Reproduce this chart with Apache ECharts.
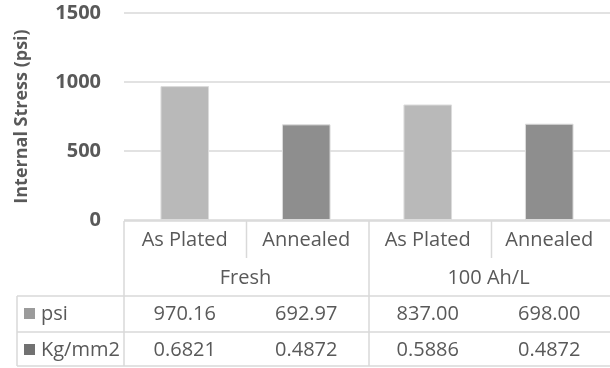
<!DOCTYPE html>
<html>
<head>
<meta charset="utf-8">
<script src="https://cdn.jsdelivr.net/npm/echarts@6/dist/echarts.min.js"></script>
<style>
  html, body { margin: 0; padding: 0; background: #fff; }
  #chart { width: 610px; height: 368px; }
</style>
</head>
<body>
<div id="chart"></div>
<script>
// Internal stress by treatment, with a data table underneath
const categories = ['As Plated', 'Annealed', 'As Plated', 'Annealed'];
const groups = ['Fresh', '100 Ah/L'];
const psiValues = [970.16, 692.97, 837.00, 698.00];
const kgValues = [0.6821, 0.4872, 0.5886, 0.4872];
const psiLabels = ['970.16', '692.97', '837.00', '698.00'];
const kgLabels = ['0.6821', '0.4872', '0.5886', '0.4872'];
const seriesNames = ['psi', 'Kg/mm2'];
const yTicks = [0, 500, 1000, 1500];

const barColors = ['#b9b9b9', '#8e8e8e', '#b9b9b9', '#8e8e8e'];
const keyColors = ['#9b9b9b', '#717171'];
const lineColor = '#d9d9d9';
const textColor = '#595959';
const family = 'Open Sans';

const chart = echarts.init(document.getElementById('chart'), null, { renderer: 'canvas' });

const GRID = { left: 124, top: 13, width: 490, height: 207 };

chart.setOption({
  animation: false,
  grid: GRID,
  xAxis: {
    type: 'category',
    data: categories,
    axisLine: { show: false },
    axisTick: { show: false },
    axisLabel: { show: false },
    splitLine: { show: false }
  },
  yAxis: {
    type: 'value',
    min: yTicks[0],
    max: yTicks[yTicks.length - 1],
    interval: 500,
    name: 'Internal Stress (psi)',
    nameLocation: 'middle',
    nameGap: 93,
    nameRotate: 90,
    nameTextStyle: { color: textColor, fontSize: 18, fontWeight: 'bold', fontFamily: family },
    axisLine: { show: false },
    axisTick: { show: false },
    axisLabel: {
      color: textColor, fontSize: 20, fontWeight: 'bold', fontFamily: family, margin: 23,
      formatter: v => String(v)
    },
    splitLine: { lineStyle: { color: lineColor, width: 1.5 } }
  },
  series: [{
    name: seriesNames[0],
    type: 'bar',
    barWidth: '40%',
    data: psiValues.map((v, i) => ({
      value: v,
      itemStyle: { color: barColors[i], borderColor: '#dcdcdc', borderWidth: 1 }
    }))
  }]
});

// Data table under the plot, laid out from the category axis positions
const x0 = GRID.left;
const x1 = GRID.left + GRID.width;
const band = GRID.width / categories.length;
const cx = categories.map((c, i) => chart.convertToPixel({ xAxisIndex: 0 }, i));
const gcx = groups.map((g, gi) => (cx[gi * 2] + cx[gi * 2 + 1]) / 2);

const rowTop = GRID.top + GRID.height + 1;   // top border of the table
const rowSub = rowTop + 37;                  // end of the sub-category separators
const rowPsi = rowTop + 75;                  // top of the psi row
const rowKg = rowPsi + 36;                   // top of the Kg/mm2 row
const rowEnd = rowKg + 34;                   // bottom border
const legendLeft = 17;

const els = [];
function hline(y, xa, xb) {
  els.push({ type: 'line', shape: { x1: xa, y1: y, x2: xb, y2: y }, style: { stroke: lineColor, lineWidth: 1.5 }, silent: true });
}
function vline(x, ya, yb) {
  els.push({ type: 'line', shape: { x1: x, y1: ya, x2: x, y2: yb }, style: { stroke: lineColor, lineWidth: 1.5 }, silent: true });
}
function text(str, x, y, align) {
  els.push({
    type: 'text', x: x, y: y, silent: true,
    style: {
      text: str, fill: textColor, fontSize: 20, fontFamily: family,
      align: align || 'center', verticalAlign: 'middle'
    }
  });
}

hline(rowTop, x0, x1);
hline(rowPsi, legendLeft, x1);
hline(rowKg, legendLeft, x1);
hline(rowEnd, legendLeft, x1);
vline(legendLeft, rowPsi, rowEnd);
vline(x0, rowTop, rowEnd);
vline(x0 + band * 2, rowTop, rowEnd);
vline(x0 + band, rowTop, rowSub);
vline(x0 + band * 3, rowTop, rowSub);
vline(x1, rowTop, rowEnd);

categories.forEach((c, i) => text(c, cx[i], rowTop + 19));
groups.forEach((g, i) => text(g, gcx[i], rowTop + 57));
psiLabels.forEach((s, i) => text(s, cx[i], rowPsi + 18));
kgLabels.forEach((s, i) => text(s, cx[i], rowKg + 18));

[rowPsi, rowKg].forEach((top, i) => {
  els.push({ type: 'rect', shape: { x: 24, y: top + 12, width: 11, height: 11 }, style: { fill: keyColors[i] }, silent: true });
  text(seriesNames[i], 41, top + 18, 'left');
});

chart.setOption({ graphic: { elements: els } });
</script>
</body>
</html>
